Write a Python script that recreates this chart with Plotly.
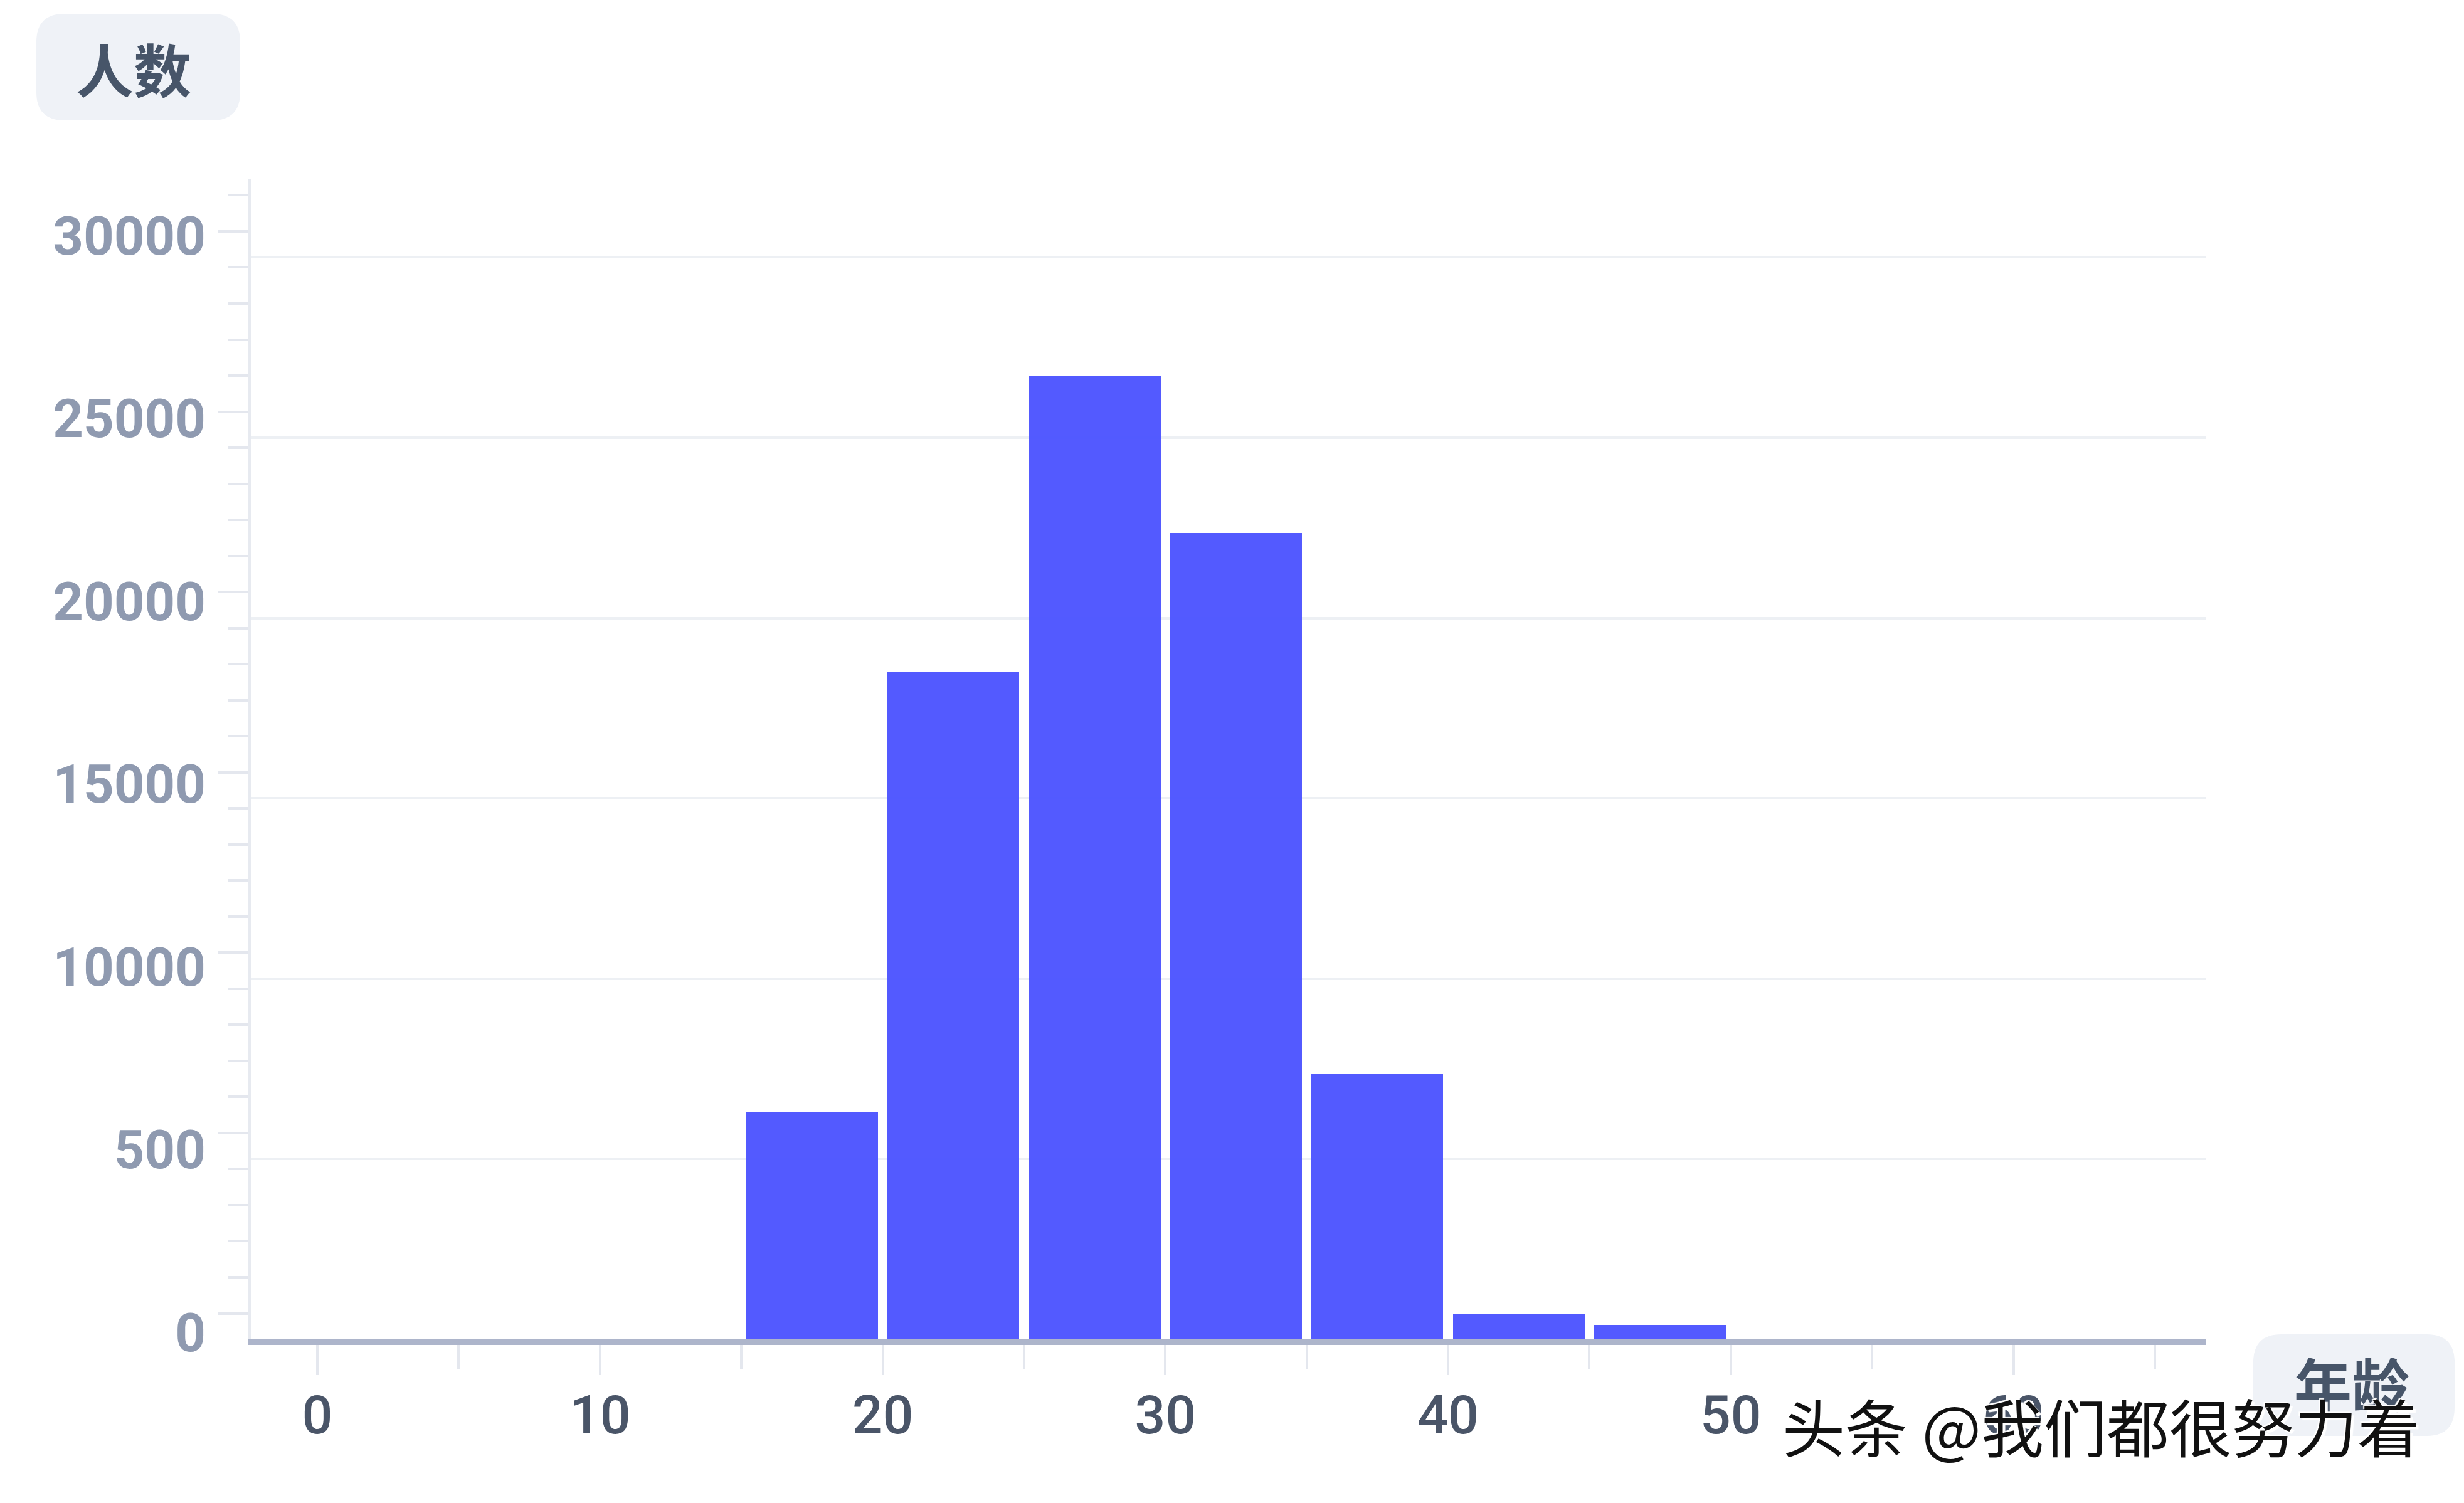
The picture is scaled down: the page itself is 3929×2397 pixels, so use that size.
import plotly.graph_objects as go

# ---------------- data ----------------
age_bin_start = [0, 5, 10, 15, 20, 25, 30, 35, 40, 45, 50, 55, 60]
counts = [0, 0, 0, 6300, 18490, 26700, 22350, 7360, 710, 400, 0, 0, 0]
bin_size = 5
bar_width = 4.66

x_tick_values = [0, 10, 20, 30, 40, 50, 60]
y_tick_values = [0, 5000, 10000, 15000, 20000, 25000, 30000]
y_tick_labels = ["0", "500", "10000", "15000", "20000", "25000", "30000"]

y_title = "人数"
x_title = "年龄"
watermark = "头条 @我们都很努力着"

# ---------------- layout geometry (page pixels) ----------------
W, H = 3929, 2397
OFF = 8                                  # default page body margin
PL, PR, PT, PB = 401, 3518, 286, 2136    # plot area extents on the page
PW, PH = PR - PL, PB - PT

x_range = [-2.33, 66.82]
y_range = [0, 32163]
tick_shift = 721            # tick marks sit slightly above the gridlines
label_range = [-189, 31543]  # tick labels drift a little further down

def px(x):
    return (x - PL) / PW

def py(y):
    return (PB - y) / PH

def rrect_path(x0, y0, x1, y1, r):
    pts = [
        ("M", [(x0 + r, y0)]),
        ("L", [(x1 - r, y0)]),
        ("Q", [(x1, y0), (x1, y0 + r)]),
        ("L", [(x1, y1 - r)]),
        ("Q", [(x1, y1), (x1 - r, y1)]),
        ("L", [(x0 + r, y1)]),
        ("Q", [(x0, y1), (x0, y1 - r)]),
        ("L", [(x0, y0 + r)]),
        ("Q", [(x0, y0), (x0 + r, y0)]),
    ]
    s = ""
    for cmd, plist in pts:
        s += cmd + " ".join(f"{px(a):.5f},{py(b):.5f}" for a, b in plist) + " "
    return s + "Z"

bin_centers = [s + bin_size / 2 for s in age_bin_start]

fig = go.Figure()
fig.add_trace(go.Bar(
    x=bin_centers, y=counts, width=bar_width,
    marker=dict(color="rgba(74,81,255,0.95)", line=dict(width=0)),
    hoverinfo="skip", showlegend=False,
))
fig.add_trace(go.Scatter(x=[None], y=[None], yaxis="y2", showlegend=False, hoverinfo="skip"))
fig.add_trace(go.Scatter(x=[None], y=[None], yaxis="y3", showlegend=False, hoverinfo="skip"))

tick_grey = "#e4e7ee"

fig.update_layout(
    width=W - 2 * OFF, height=H - 2 * OFF, autosize=False,
    margin=dict(l=PL - OFF, r=(W - OFF) - PR, t=PT - OFF, b=(H - OFF) - PB, pad=0),
    paper_bgcolor="white", plot_bgcolor="white",
    showlegend=False, bargap=0,
    xaxis=dict(
        range=x_range, tickmode="array", tickvals=x_tick_values,
        ticks="outside", ticklen=48, tickwidth=4, tickcolor=tick_grey,
        showline=True, linecolor="#adb5cb", linewidth=9,
        showgrid=False, zeroline=False,
        tickfont=dict(family="Roboto", size=86, color="#4a5568", weight=500),
        ticklabelstandoff=-10,
        minor=dict(dtick=5, tick0=0, ticks="outside", ticklen=38, tickwidth=4,
                   tickcolor=tick_grey, showgrid=False),
    ),
    yaxis=dict(
        range=y_range, tickmode="linear", tick0=0, dtick=5000,
        showgrid=True, gridcolor="#edf0f4", gridwidth=4,
        showticklabels=False, ticks="", showline=False, zeroline=False,
    ),
    yaxis2=dict(
        overlaying="y", side="left", anchor="x",
        range=[y_range[0] - tick_shift, y_range[1] - tick_shift],
        tickmode="array", tickvals=y_tick_values, showticklabels=False,
        ticks="outside", ticklen=47, tickwidth=4, tickcolor=tick_grey,
        showline=True, linecolor="#e7eaf0", linewidth=6,
        showgrid=False, zeroline=False,
        minor=dict(dtick=1000, tick0=0, ticks="outside", ticklen=31, tickwidth=4,
                   tickcolor=tick_grey, showgrid=False),
    ),
    yaxis3=dict(
        overlaying="y", side="left", anchor="x",
        range=label_range,
        tickmode="array", tickvals=y_tick_values, ticktext=y_tick_labels,
        ticks="", showline=False, showgrid=False, zeroline=False,
        tickfont=dict(family="Roboto", size=85, color="#8f9ab0", weight="bold"),
        ticklabelstandoff=72,
    ),
)

# rounded label boxes
box_fill = "#eff2f7"
fig.add_shape(type="path", xref="paper", yref="paper", layer="above",
              path=rrect_path(58, 22, 383, 192, 45),
              fillcolor=box_fill, line=dict(width=0))
fig.add_shape(type="path", xref="paper", yref="paper", layer="above",
              path=rrect_path(3593, 2128, 3914, 2290, 45),
              fillcolor=box_fill, line=dict(width=0))

title_font = dict(family="Noto Sans CJK SC", size=92, color="#475569", weight="bold")
fig.add_annotation(text=y_title, xref="paper", yref="paper", x=px(213), y=py(107),
                   xanchor="center", yanchor="middle", showarrow=False, font=title_font)
fig.add_annotation(text=x_title, xref="paper", yref="paper", x=px(3750), y=py(2203),
                   xanchor="center", yanchor="middle", showarrow=False, font=title_font)

fig.add_annotation(text=watermark, xref="paper", yref="paper", x=px(3350), y=py(2272),
                   xanchor="center", yanchor="middle", showarrow=False,
                   font=dict(family="Noto Sans CJK SC", size=100, color="#111111",
                             shadow="4px 4px 1px white, -2px -2px 1px white"))

fig.write_html("out.html")
